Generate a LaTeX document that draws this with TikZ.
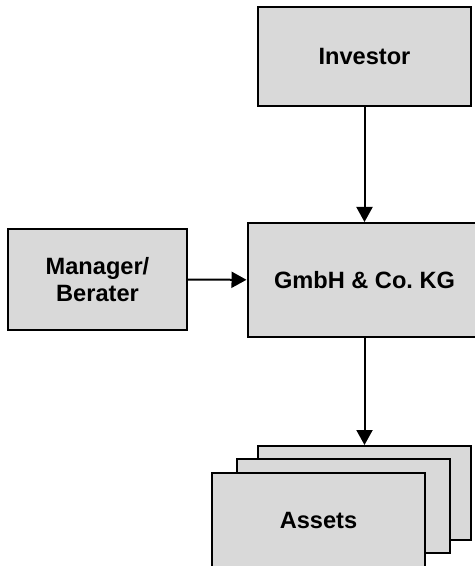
\documentclass[tikz,border=0pt]{standalone}
\usepackage{fontspec}
\setmainfont{Liberation Sans}
\usetikzlibrary{arrows.meta}

\tikzset{
  box/.style={draw=black, line width=1pt, fill=boxgray, inner sep=0pt,
    align=center, font=\fontsize{11.8}{13.6}\selectfont\bfseries},
  link/.style={-{Triangle[length=7.5pt,width=8pt]}, line width=1pt}
}
\definecolor{boxgray}{HTML}{D9D9D9}

\begin{document}
\begin{tikzpicture}[x=0.5pt, y=-0.5pt]
  \useasboundingbox (0,0) rectangle (475,566);
  \clip (0,0) rectangle (475,566);

  % top and middle row
  \node[box, minimum width=106.5pt, minimum height=49.5pt] (investor) at (364.5,56.5) {Investor};
  \node[box, minimum width=117pt, minimum height=57pt] (kg) at (364.5,280) {GmbH \& Co.\ KG};
  \node[box, minimum width=89.5pt, minimum height=50pt] (manager) at (97.5,279.5) {Manager/\\Berater};

  % stacked assets, back to front
  \node[box, minimum width=106.5pt, minimum height=47pt] (asset3) at (364.5,493) {};
  \node[box, minimum width=106.5pt, minimum height=47pt] (asset2) at (343.5,506) {};
  \node[box, minimum width=106.5pt, minimum height=47pt] (assets) at (318.5,520) {Assets};

  % arrows
  \draw[link] (investor) -- (kg);
  \draw[link] (manager) -- (kg);
  \draw[link] (kg) -- (asset3);
\end{tikzpicture}
\end{document}
